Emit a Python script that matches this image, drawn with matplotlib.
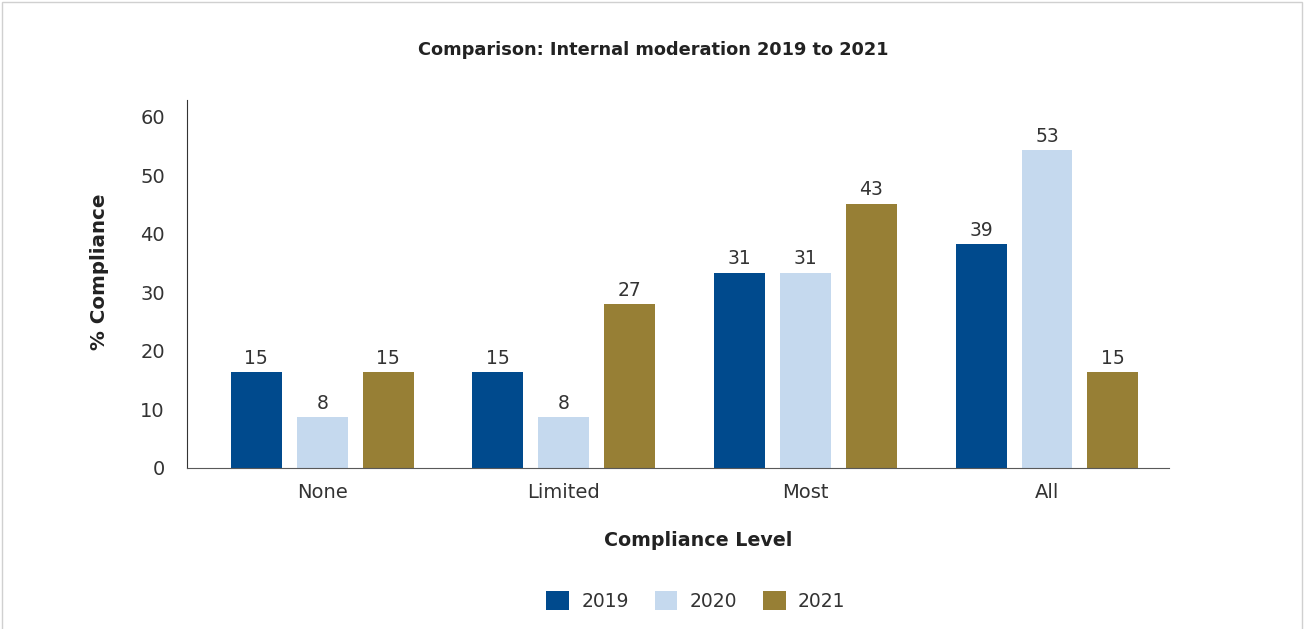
import numpy as np
import matplotlib as mpl
mpl.use('Agg')
import matplotlib.pyplot as plt
from matplotlib.patches import Rectangle, Patch

# data
categories = ['None', 'Limited', 'Most', 'All']
years = ['2019', '2020', '2021']
# bar heights as drawn (the printed labels are rounded differently)
h2019 = [16.4, 16.4, 33.4, 38.3]
h2020 = [8.7, 8.7, 33.4, 54.4]
h2021 = [16.4, 28.0, 45.2, 16.4]
# printed data labels
lab2019 = [15, 15, 31, 39]
lab2020 = [8, 8, 31, 53]
lab2021 = [15, 27, 43, 15]

colors = ['#004a8d', '#c5d9ee', '#977f35']
txt = '#333333'
plt.rcParams['font.family'] = ['DejaVu Sans']

fig = plt.figure(figsize=(13.06, 6.29), dpi=100)
ax = fig.add_axes([0.1432, 0.256, 0.7519, 0.585])

x = np.arange(len(categories))
width = 0.211
step = 0.273
heights = [h2019, h2020, h2021]
labels = [lab2019, lab2020, lab2021]
for i in range(3):
    bars = ax.bar(x + (i - 1) * step, heights[i], width, color=colors[i], label=years[i])
    ax.bar_label(bars, labels=[str(v) for v in labels[i]], padding=3, fontsize=13.5, color=txt)

ax.set_xlim(-0.56, 3.505)
ax.set_ylim(0, 62.9)
ax.set_yticks(range(0, 61, 10))
ax.set_xticks(x)
ax.set_xticklabels(categories)
ax.tick_params(axis='x', length=0, pad=11, labelsize=14, labelcolor=txt)
ax.tick_params(axis='y', length=0, pad=16, labelsize=14, labelcolor=txt)
for s in ['top', 'right']:
    ax.spines[s].set_visible(False)
ax.spines['left'].set_color('#333333')
ax.spines['bottom'].set_color('#595959')

fig.text(0.5, 1 - 50 / 629., 'Comparison: Internal moderation 2019 to 2021',
         ha='center', va='center', fontsize=12.8, fontweight='bold', color='#222222')
fig.text(100 / 1306., 1 - 272 / 629., '% Compliance', rotation=90,
         ha='center', va='center', fontsize=14.3, fontweight='bold', color='#222222')
fig.text(698 / 1306., 1 - 541 / 629., 'Compliance Level',
         ha='center', va='center', fontsize=13.7, fontweight='bold', color='#222222')

handles = [Patch(facecolor=c) for c in colors]
fig.legend(handles, years, loc='center', bbox_to_anchor=(696 / 1306., 1 - 601 / 629.),
           ncol=3, frameon=False, fontsize=13.5, handlelength=1.2, handleheight=1.2,
           handletextpad=0.65, columnspacing=1.4, labelcolor=txt)

# light frame around the chart area
fig.patches.append(Rectangle((2 / 1306., -0.05), 1300 / 1306., 1.05 - 2 / 629.,
                             transform=fig.transFigure, fill=False,
                             edgecolor='#d0d0d0', linewidth=1))

fig.savefig('out.png', dpi=100)
